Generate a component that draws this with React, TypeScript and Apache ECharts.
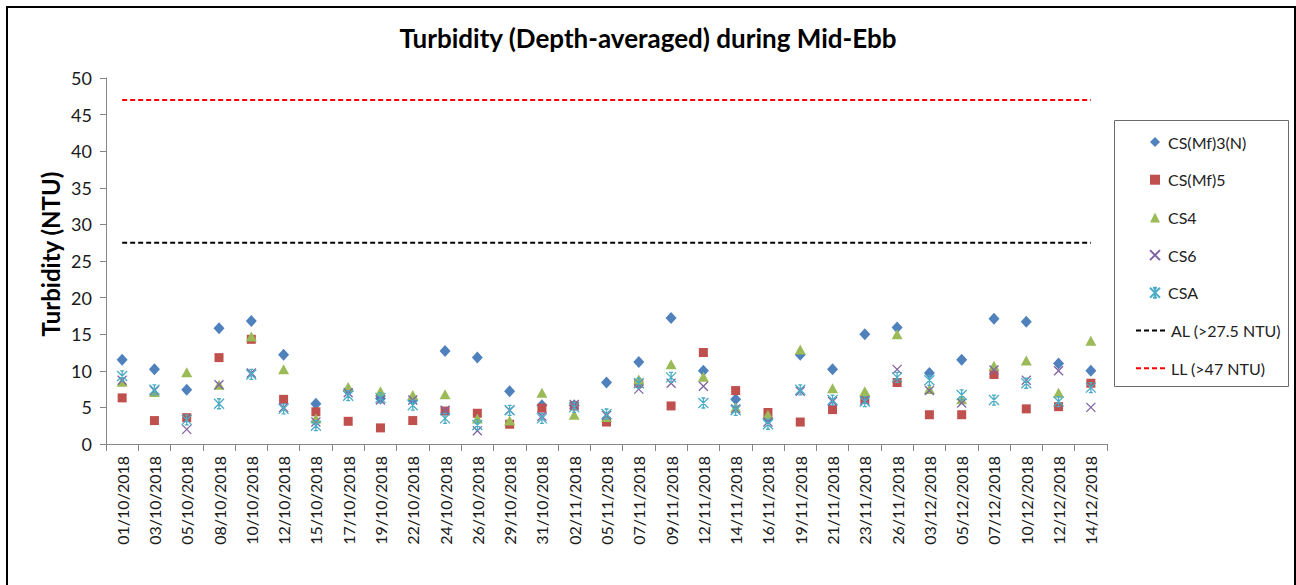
import React, { useEffect, useRef } from "react";
import * as echarts from "echarts";

const dates = [
  "01/10/2018", "03/10/2018", "05/10/2018", "08/10/2018", "10/10/2018", "12/10/2018",
  "15/10/2018", "17/10/2018", "19/10/2018", "22/10/2018", "24/10/2018", "26/10/2018",
  "29/10/2018", "31/10/2018", "02/11/2018", "05/11/2018", "07/11/2018", "09/11/2018",
  "12/11/2018", "14/11/2018", "16/11/2018", "19/11/2018", "21/11/2018", "23/11/2018",
  "26/11/2018", "03/12/2018", "05/12/2018", "07/12/2018", "10/12/2018", "12/12/2018",
  "14/12/2018",
];

const csMf3N = [11.5, 10.2, 7.4, 15.8, 16.8, 12.2, 5.5, 7.3, 6.2, 6.0, 12.7, 11.8, 7.2, 5.3, 5.3, 8.4, 11.2, 17.2, 10.0, 6.1, 3.5, 12.2, 10.2, 15.0, 15.9, 9.7, 11.5, 17.1, 16.7, 11.0, 10.0];
const csMf5 = [6.3, 3.2, 3.6, 11.8, 14.3, 6.1, 4.4, 3.1, 2.2, 3.2, 4.5, 4.2, 2.7, 4.9, 5.2, 3.0, 8.3, 5.2, 12.5, 7.3, 4.3, 3.0, 4.7, 6.1, 8.4, 4.0, 4.0, 9.5, 4.8, 5.1, 8.3];
const cs4 = [8.5, 7.1, 9.8, 8.1, 14.7, 10.2, 3.5, 7.8, 7.2, 6.7, 6.8, 3.5, 3.2, 7.0, 4.0, 3.7, 8.8, 10.9, 9.2, 5.0, 4.0, 12.9, 7.6, 7.2, 15.0, 7.5, 6.1, 10.7, 11.4, 7.0, 14.1];
const cs6 = [8.7, 7.3, 2.0, 8.1, 9.7, 5.0, 3.0, 7.0, 6.0, 6.0, 4.6, 1.8, 4.6, 3.8, 5.4, 3.9, 7.5, 8.3, 7.9, 4.8, 3.0, 7.2, 5.8, 5.9, 10.2, 7.3, 5.6, 10.1, 8.7, 10.0, 5.0];
const csa = [9.3, 7.4, 3.3, 5.5, 9.5, 4.8, 2.5, 6.6, 6.3, 5.3, 3.5, 2.6, 4.6, 3.5, 5.0, 4.1, 8.3, 9.1, 5.6, 4.6, 2.7, 7.4, 6.0, 5.8, 9.1, 8.7, 6.7, 6.0, 8.3, 5.8, 7.7];

const alLevel = 27.5;
const llLevel = 47;
const alLine = dates.map(() => alLevel);
const llLine = dates.map(() => llLevel);

const FONT = "Lato, 'Open Sans', sans-serif";

const crossPath = "path://M0,0L10,10M10,0L0,10";
const starPath = "path://M0,0L10,10M10,0L0,10M5,0L5,10M3,0L7,0M3,10L7,10";
const dashIcon = "path://M0,0h5v2h-5zM8,0h5v2h-5zM16,0h5v2h-5zM24,0h5v2h-5z";

export default function App() {
  const ref = useRef<HTMLDivElement>(null);

  useEffect(() => {
    if (!ref.current) return;
    const chart = echarts.init(ref.current, undefined, { renderer: "svg" });
    const legendText = { fontFamily: FONT, fontSize: 16, color: "#222222", lineHeight: 18 };
    chart.setOption({
      animation: false,
      backgroundColor: "#ffffff",
      textStyle: { fontFamily: FONT },
      grid: { left: 106, right: 189, top: 78, bottom: 141, containLabel: false },
      graphic: [
        {
          type: "polyline",
          shape: { points: [[7, 590], [7, 7], [1295, 7], [1295, 590]] },
          style: { stroke: "#000000", lineWidth: 2, fill: "none" },
          silent: true,
        },
        {
          type: "text",
          x: 648,
          y: 38,
          style: {
            text: "Turbidity (Depth-averaged) during Mid-Ebb",
            fontFamily: FONT,
            fontWeight: "bold",
            fontSize: 26,
            fill: "#000000",
            textAlign: "center",
            textVerticalAlign: "middle",
          },
        },
        {
          type: "text",
          x: 50,
          y: 254,
          rotation: Math.PI / 2,
          style: {
            text: "Turbidity (NTU)",
            fontFamily: FONT,
            fontWeight: "bold",
            fontSize: 24,
            fill: "#000000",
            textAlign: "center",
            textVerticalAlign: "middle",
          },
        },
        {
          type: "rect",
          shape: { x: 1114.5, y: 120.5, width: 174, height: 266 },
          style: { stroke: "#6b6b6b", lineWidth: 1, fill: "#ffffff" },
          z: -1,
          silent: true,
        },
      ],
      legend: [
        {
          orient: "vertical",
          left: 1144,
          top: 128,
          itemWidth: 10,
          itemHeight: 10,
          itemGap: 19.7,
          textStyle: { ...legendText, padding: [0, 0, 0, 3] },
          data: ["CS(Mf)3(N)", "CS(Mf)5", "CS4", "CS6", "CSA"],
        },
        {
          orient: "vertical",
          left: 1131,
          top: 316.5,
          itemWidth: 31,
          itemHeight: 2,
          itemGap: 19.7,
          textStyle: { ...legendText, padding: [0, 0, 0, 0] },
          data: [
            { name: "AL (>27.5 NTU)", icon: dashIcon },
            { name: "LL (>47 NTU)", icon: dashIcon },
          ],
        },
      ],
      xAxis: {
        type: "category",
        data: dates,
        boundaryGap: true,
        axisLine: { lineStyle: { color: "#868686", width: 1 } },
        axisTick: { show: true, length: 7, lineStyle: { color: "#868686" } },
        axisLabel: {
          rotate: 90,
          interval: 0,
          margin: 12,
          fontFamily: FONT,
          fontSize: 16,
          color: "#1a1a1a",
        },
        splitLine: { show: false },
      },
      yAxis: {
        type: "value",
        min: 0,
        max: 50,
        interval: 5,
        axisLine: { show: true, lineStyle: { color: "#868686", width: 1 } },
        axisTick: { show: true, length: 6, lineStyle: { color: "#868686" } },
        axisLabel: { fontFamily: FONT, fontSize: 18, color: "#1a1a1a", margin: 14 },
        splitLine: { show: false },
      },
      series: [
        {
          name: "CS(Mf)3(N)",
          type: "scatter",
          data: csMf3N,
          symbol: "diamond",
          symbolSize: [11, 12],
          itemStyle: { color: "#4F81BD", opacity: 1 },
        },
        {
          name: "CS(Mf)5",
          type: "scatter",
          data: csMf5,
          symbol: "rect",
          symbolSize: 9,
          itemStyle: { color: "#C0504D", opacity: 1 },
        },
        {
          name: "CS4",
          type: "scatter",
          data: cs4,
          symbol: "triangle",
          symbolSize: [11, 10],
          itemStyle: { color: "#9BBB59", opacity: 1 },
        },
        {
          name: "CS6",
          type: "scatter",
          data: cs6,
          symbol: crossPath,
          symbolSize: 9,
          itemStyle: { color: "rgba(0,0,0,0)", borderColor: "#8064A2", borderWidth: 1.3, opacity: 1 },
        },
        {
          name: "CSA",
          type: "scatter",
          data: csa,
          symbol: starPath,
          symbolSize: 10,
          itemStyle: { color: "rgba(0,0,0,0)", borderColor: "#4BACC6", borderWidth: 1.3, opacity: 1 },
        },
        {
          name: "AL (>27.5 NTU)",
          type: "line",
          data: alLine,
          symbol: "none",
          itemStyle: { color: "#000000" },
          lineStyle: { color: "#000000", width: 2, type: [5, 3] },
        },
        {
          name: "LL (>47 NTU)",
          type: "line",
          data: llLine,
          symbol: "none",
          itemStyle: { color: "#FF0000" },
          lineStyle: { color: "#FF0000", width: 2, type: [5, 3] },
        },
      ],
    });
    return () => chart.dispose();
  }, []);

  return (
    <div
      ref={ref}
      style={{ position: "fixed", left: 0, top: 0, width: 1296, height: 585, background: "#fff" }}
    />
  );
}
